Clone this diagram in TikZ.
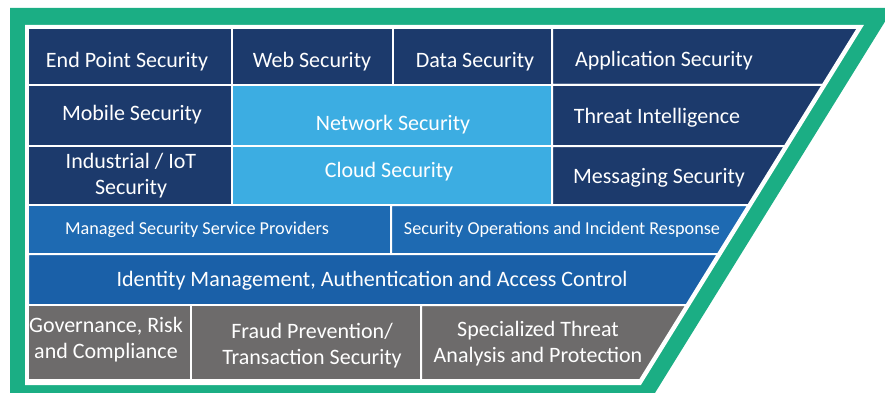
\documentclass[tikz,border=0pt]{standalone}
\usepackage{fontspec}
\setmainfont{Carlito}
\definecolor{navy}{RGB}{28,58,108}
\definecolor{sky}{RGB}{60,173,226}
\definecolor{midblue}{RGB}{30,106,178}
\definecolor{idblue}{RGB}{26,96,168}
\definecolor{slate}{RGB}{109,107,107}
\definecolor{framegreen}{RGB}{27,174,132}
\begin{document}
\begin{tikzpicture}[x=1pt,y=-1pt,
  cell/.style={draw=white,line width=2pt},
  lbl/.style={text=white,font=\fontsize{22}{25.5}\selectfont,align=center,inner sep=0pt,anchor=base},
  smalllbl/.style={lbl,font=\fontsize{18.2}{21}\selectfont}]
\useasboundingbox (0,0) rectangle (885,393);
% green frame and white margin
\begin{scope}
  \clip (0,0) rectangle (885,393);
  \fill[framegreen] (10,8) -- (893.4,8) -- (650.6,400) -- (10,400) -- cycle;
  \fill[white] (25,25) -- (863.9,25) -- (640.9,385) -- (25,385) -- cycle;
\end{scope}
% row 1
\fill[navy,cell] (28,28) rectangle (232,85);
\fill[navy,cell] (232,28) rectangle (393,85);
\fill[navy,cell] (393,28) rectangle (552,85);
\fill[navy,cell] (552,28) -- (858,28) -- (822.7,85) -- (552,85) -- cycle;
% rows 2 and 3
\fill[navy,cell] (28,85) rectangle (232,146);
\fill[navy,cell] (28,146) rectangle (232,205);
\fill[sky,cell] (232,85) rectangle (552,146);
\fill[sky,cell] (232,146) rectangle (552,205);
\fill[navy,cell] (552,85) -- (822.7,85) -- (784.9,146) -- (552,146) -- cycle;
\fill[navy,cell] (552,146) -- (784.9,146) -- (748.4,205) -- (552,205) -- cycle;
% row 4
\fill[midblue,cell] (28,205) rectangle (391,254);
\fill[midblue,cell] (391,205) -- (748.4,205) -- (718,254) -- (391,254) -- cycle;
% row 5
\fill[idblue,cell] (28,254) -- (718,254) -- (686.5,305) -- (28,305) -- cycle;
% row 6
\fill[slate,cell] (28,305) rectangle (191,380);
\fill[slate,cell] (191,305) rectangle (421,380);
\fill[slate,cell] (421,305) -- (686.5,305) -- (640,380) -- (421,380) -- cycle;
% labels (anchor at the baseline of the last line)
\node[lbl] (endpoint) at (127,68) {End Point Security};
\node[lbl] (web) at (312,68) {Web Security};
\node[lbl] (data) at (475,68) {Data Security};
\node[lbl] (app) at (664,67) {Application Security};
\node[lbl] (mobile) at (132,121) {Mobile Security};
\node[lbl] (network) at (393,131) {Network Security};
\node[lbl] (threat) at (657,123) {Threat Intelligence};
\node[lbl] (iot) at (131,194) {Industrial / IoT\\Security};
\node[lbl] (cloud) at (389,177) {Cloud Security};
\node[lbl] (messaging) at (659,183) {Messaging Security};
\node[smalllbl] (mssp) at (197,234) {Managed Security Service Providers};
\node[smalllbl] (soc) at (562,234) {Security Operations and Incident Response};
\node[lbl] (iam) at (372,286) {Identity Management, Authentication and Access Control};
\node[lbl] (grc) at (106,358) {Governance, Risk\\and Compliance};
\node[lbl] (fraud) at (312,364) {Fraud Prevention/\\Transaction Security};
\node[lbl] (sta) at (538,362) {Specialized Threat\\Analysis and Protection};
\end{tikzpicture}
\end{document}
